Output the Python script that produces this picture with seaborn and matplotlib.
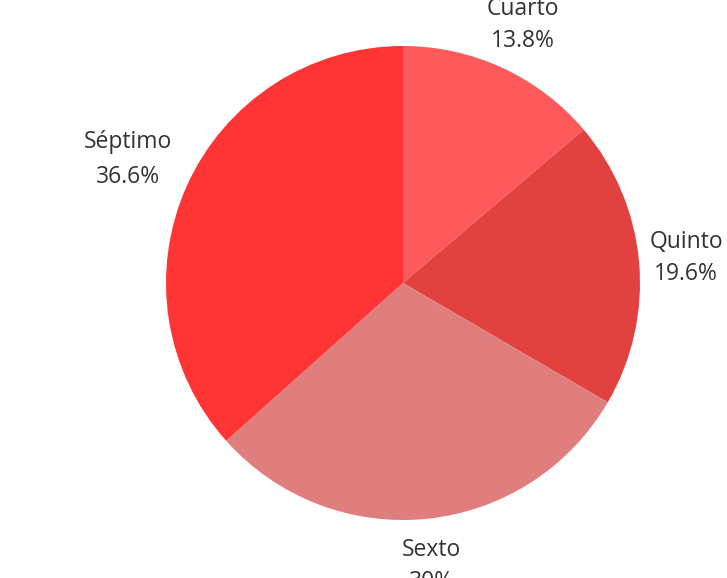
import matplotlib.pyplot as plt
import seaborn as sns


sns.set_theme(style="white")
plt.rcParams["font.family"] = ["Open Sans", "DejaVu Sans"]


categories = ["Cuarto", "Quinto", "Sexto", "Séptimo"]
shares = [13.8, 19.6, 30, 36.6]
share_labels = ["13.8%", "19.6%", "30%", "36.6%"]
colors = ["#FF5A5B", "#E1413F", "#E07E7E", "#FF3434"]


fig = plt.figure(figsize=(7.27, 5.78), dpi=100)
ax = fig.add_axes([166 / 727, 58 / 578, 474 / 727, 474 / 578])

labels = [f"{c}\n{p}" for c, p in zip(categories, share_labels)]
wedges, texts = ax.pie(shares, labels=labels, colors=sns.color_palette(colors),
                       startangle=90, counterclock=False, labeldistance=1.2,
                       wedgeprops={"linewidth": 0},
                       textprops={"fontsize": 16.5, "color": "#333333", "linespacing": 1.4})
for t in texts:
    t.set_horizontalalignment("center")
    t.set_verticalalignment("center")

# the big slice's label sits a bit further out
x, y = texts[3].get_position()
texts[3].set_position((x * 1.06, y * 1.06))
texts[3].set_linespacing(1.6)

ax.set_aspect("auto")
ax.set_xlim(-1, 1)
ax.set_ylim(-1, 1)
ax.axis("off")

fig.savefig("out.png", dpi=100)
